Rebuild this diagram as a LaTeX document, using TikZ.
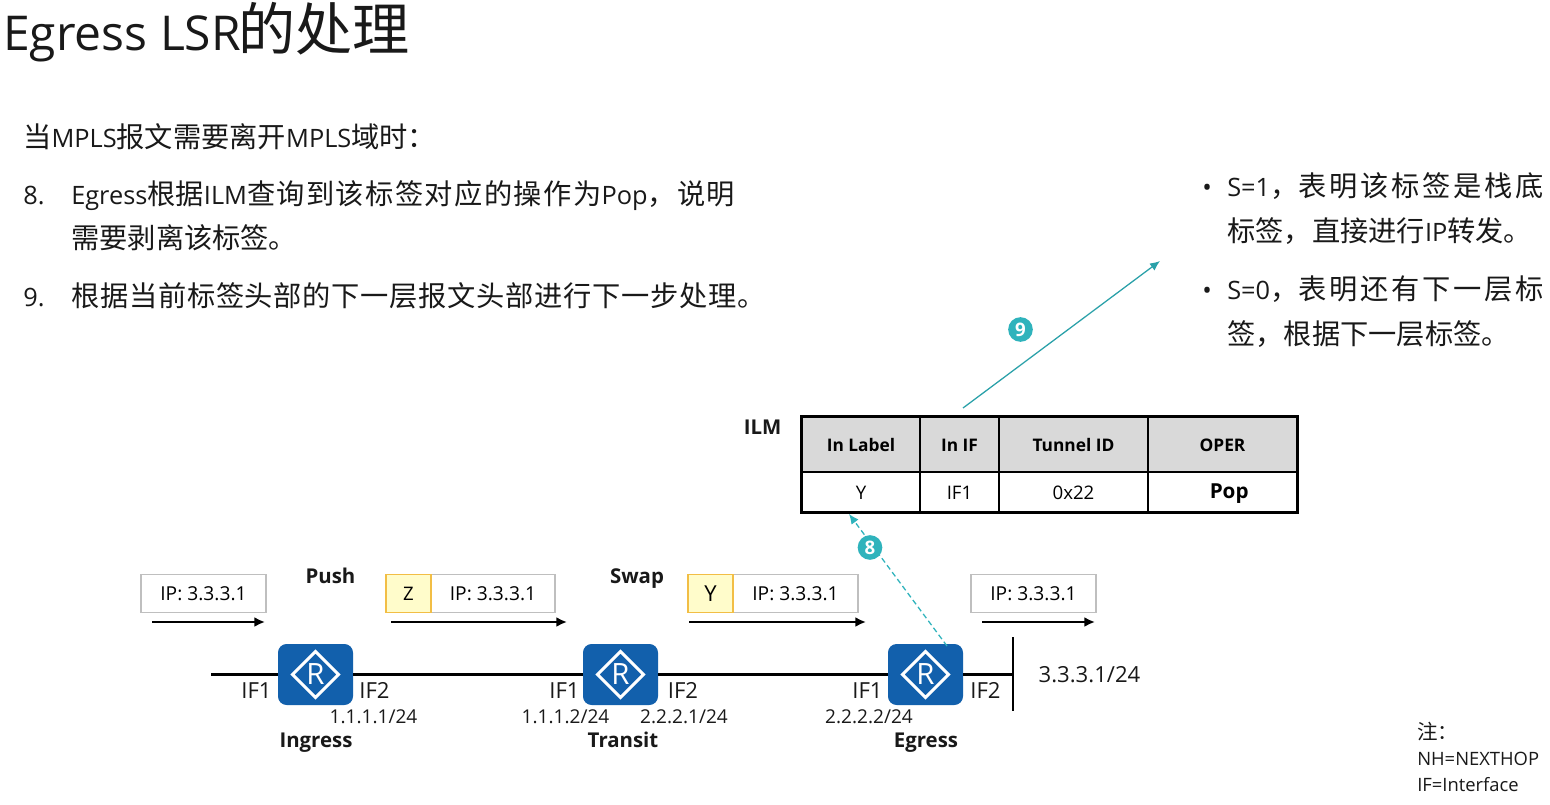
\documentclass[tikz,border=0pt]{standalone}
\usepackage{fontspec}
\setmainfont{Open Sans}
\newfontfamily\cjk[Scale=1.115]{Noto Sans CJK SC}
\newfontfamily\cjka[Scale=1.115,LetterSpace=9.8]{Noto Sans CJK SC}
\newfontfamily\cjkb[Scale=1.115,LetterSpace=5]{Noto Sans CJK SC}
\newfontfamily\cjkc[Scale=1.115,LetterSpace=2.5]{Noto Sans CJK SC}
\newfontfamily\cjkt[Scale=1.19]{Noto Sans CJK SC}
\newcommand{\C}[1]{{\cjk #1}}
\newcommand{\Ca}[1]{{\cjka #1}}
\newcommand{\Cb}[1]{{\cjkb #1}}
\newcommand{\Cc}[1]{{\cjkc #1}}
\usetikzlibrary{arrows.meta,shapes.geometric}
\definecolor{teal1}{HTML}{2FB3BC}
\definecolor{rblue}{HTML}{1260AC}
\definecolor{hdr}{HTML}{D9D9D9}
\definecolor{pk}{HTML}{BFBFBF}
\definecolor{yfill}{HTML}{FFFCCB}
\definecolor{yline}{HTML}{F2BE45}
\tikzset{
 px/.style={x=0.75pt,y=-0.75pt},
 txt/.style={inner sep=0pt,anchor=base west,text=black!90},
 ctr/.style={inner sep=0pt,anchor=base,text=black!90},
 body/.style={txt,font=\fontsize{19}{24}\selectfont},
 lab/.style={ctr,font=\fontsize{16.6}{19}\selectfont},
 bold/.style={ctr,font=\fontsize{15.3}{18}\selectfont\bfseries},
 small/.style={ctr,font=\fontsize{14.3}{17}\selectfont},
 cellh/.style={draw=black,line width=0.9pt,fill=hdr,minimum height=41.25pt,inner sep=0pt,text height=10.1pt,text depth=0pt,font=\fontsize{13}{15}\selectfont\bfseries},
 cellb/.style={draw=black,line width=0.9pt,fill=white,minimum height=30pt,inner sep=0pt,text height=11.5pt,text depth=0pt,font=\fontsize{14}{16}\selectfont},
 router/.style={fill=rblue,rounded corners=6.5pt,minimum width=56.25pt,minimum height=45.75pt,inner sep=0pt},
 rdia/.style={diamond,draw=white,line width=2.3pt,minimum width=35.5pt,minimum height=35.5pt,inner sep=0pt,text=white,font=\fontsize{22}{22}\selectfont},
 pkt/.style={draw=pk,line width=1.1pt,fill=white,minimum height=28.5pt,inner sep=0pt,font=\fontsize{14.4}{16}\selectfont},
 lbl/.style={draw=yline,line width=1.1pt,fill=yfill,minimum height=28.5pt,minimum width=33.75pt,inner sep=0pt,font=\fontsize{14}{16}\selectfont},
 flow/.style={line width=1.7pt,-{Latex[length=8pt,width=7.5pt]}},
 wire/.style={line width=2.2pt,black},
 tarrow/.style={teal1!90!black,line width=0.95pt,-{Latex[length=7.5pt,width=6.5pt]}},
 badge/.style={circle,fill=teal1,minimum size=18.5pt,inner sep=0pt,text=white,font=\fontsize{14}{14}\selectfont\bfseries},
}
\begin{document}
\begin{tikzpicture}[px]
\useasboundingbox (0,0) rectangle (1550,804);
\fill[white] (0,0) rectangle (1550,804);
% title
\node[txt,font=\fontsize{36}{40}\selectfont] (title) at (3,50) {Egress LSR{\cjkt\kern-2pt 的处理}};
% body
\node[body] (t1) at (23,147) {\C{当}MPLS\C{报文需要离开}MPLS\C{域时：}};
\node[body] (n8) at (23,204) {8.};
\node[body] (t2) at (71,204) {Egress\C{根据}ILM\Cb{查询到该标签对应的操作为}Pop\Cb{，说明}};
\node[body] (t3) at (71,248) {\C{需要剥离该标签。}};
\node[body] (n9) at (23,306) {9.};
\node[body] (t4) at (71,306) {\Cc{根据当前标签头部的下一层报文头部进行下一步处理。}};
% right bullets
\node[body] (b1) at (1202,196) {•};
\node[body] (r1) at (1227,196) {S=1\C{，}\Ca{表明该标签是栈底}};
\node[body] (r2) at (1227,241) {\C{标签，直接进行}IP\C{转发。}};
\node[body] (b2) at (1202,299) {•};
\node[body] (r3) at (1227,299) {S=0\C{，}\Ca{表明还有下一层标}};
\node[body] (r4) at (1227,344) {\C{签，根据下一层标签。}};
% ILM table
\node[bold] (ilm) at (762.5,434) {ILM};
\node[cellh,minimum width=88.5pt] (h1) at (861,444.5) {In Label};
\node[cellh,minimum width=59.25pt] (h2) at (959.5,444.5) {In IF};
\node[cellh,minimum width=111.75pt] (h3) at (1073.5,444.5) {Tunnel ID};
\node[cellh,minimum width=111.75pt] (h4) at (1222.5,444.5) {OPER};
\node[cellb,minimum width=88.5pt] (c1) at (861,492) {Y};
\node[cellb,minimum width=59.25pt] (c2) at (959.5,492) {IF1};
\node[cellb,minimum width=111.75pt] (c3) at (1073.5,492) {0x22};
\node[cellb,minimum width=111.75pt,font=\fontsize{15.5}{18}\selectfont\bfseries] (c4) at (1222.5,492) {\raisebox{1pt}{\hspace{10pt}Pop}};
\draw[line width=2.5pt,black] (h1.north west) rectangle (c4.south east);
% routers
\node[router] (r-in) at (315.5,674.5) {};
\node[rdia] at (r-in) {R};
\node[router] (r-tr) at (620.5,674.5) {};
\node[rdia] at (r-tr) {R};
\node[router] (r-eg) at (925.5,674.5) {};
\node[rdia] at (r-eg) {R};
% wires
\coordinate (w0) at (211,674.5);
\coordinate (seg1) at (1013,637);
\coordinate (seg2) at (1013,711);
\coordinate (segm) at (1013,674.5);
\draw[wire] (w0) -- (r-in.west);
\draw[wire] (r-in.east) -- (r-tr.west);
\draw[wire] (r-tr.east) -- (r-eg.west);
\draw[wire] (r-eg.east) -- (segm);
\draw[wire] (seg1) -- (seg2);
% packets
\node[pkt,minimum width=93.75pt] (p1) at (203.5,593.5) {IP: 3.3.3.1};
\node[pkt,minimum width=93pt] (p2) at (493,593.5) {IP: 3.3.3.1};
\node[lbl] (l2) at (408.5,593.5) {Z};
\node[pkt,minimum width=93.75pt] (p3) at (795.5,593.5) {IP: 3.3.3.1};
\node[lbl,font=\fontsize{16.5}{18}\selectfont] (l3) at (710.5,593.5) {Y};
\node[pkt,minimum width=93.75pt] (p4) at (1033.5,593.5) {IP: 3.3.3.1};
% flow arrows
\coordinate (a1s) at (152,622); \coordinate (a1e) at (265,622);
\coordinate (a2s) at (391,622); \coordinate (a2e) at (567,622);
\coordinate (a3s) at (689,622); \coordinate (a3e) at (866,622);
\coordinate (a4s) at (982,622); \coordinate (a4e) at (1095,622);
\draw[flow] (a1s) -- (a1e);
\draw[flow] (a2s) -- (a2e);
\draw[flow] (a3s) -- (a3e);
\draw[flow] (a4s) -- (a4e);
% operation labels
\node[bold] (push) at (330.5,583) {Push};
\node[bold] (swap) at (637,583) {Swap};
% interface labels
\node[lab] (if1a) at (256.5,698) {IF1};
\node[lab] (if2a) at (374.5,698) {IF2};
\node[lab] (if1b) at (564.5,698) {IF1};
\node[lab] (if2b) at (683,698) {IF2};
\node[lab] (if1c) at (867.5,698) {IF1};
\node[lab] (if2c) at (985.5,698) {IF2};
\node[small] (ip1) at (373.5,723) {1.1.1.1/24};
\node[small] (ip2) at (565.5,723) {1.1.1.2/24};
\node[small] (ip3) at (684,723) {2.2.2.1/24};
\node[small] (ip4) at (869,723) {2.2.2.2/24};
\node[lab] (net) at (1089.5,682) {3.3.3.1/24};
\node[bold] (ing) at (316,747.5) {Ingress};
\node[bold] (tra) at (623,747.5) {Transit};
\node[bold] (egr) at (926,747.5) {Egress};
% teal arrows
\coordinate (a9s) at (963,408);
\coordinate (a9e) at (1160,261);
\draw[tarrow] (a9s) -- (a9e);
\coordinate (a8s) at (947,646);
\coordinate (a8e) at ([xshift=-9pt,yshift=-1pt]c1.south);
\draw[tarrow,teal1,dashed,dash pattern=on 4pt off 2.5pt] (a8s) -- (a8e);
\node[badge] (bd9) at (1020.5,329.5) {9};
\node[badge] (bd8) at (870,547.5) {8};
% note
\node[txt,font=\fontsize{13.8}{16}\selectfont] (nt1) at (1417,739) {\C{注：}};
\node[txt,font=\fontsize{13.8}{16}\selectfont] (nt2) at (1417,765) {NH=NEXTHOP};
\node[txt,font=\fontsize{13.8}{16}\selectfont] (nt3) at (1417,791) {IF=Interface};
\end{tikzpicture}
\end{document}
